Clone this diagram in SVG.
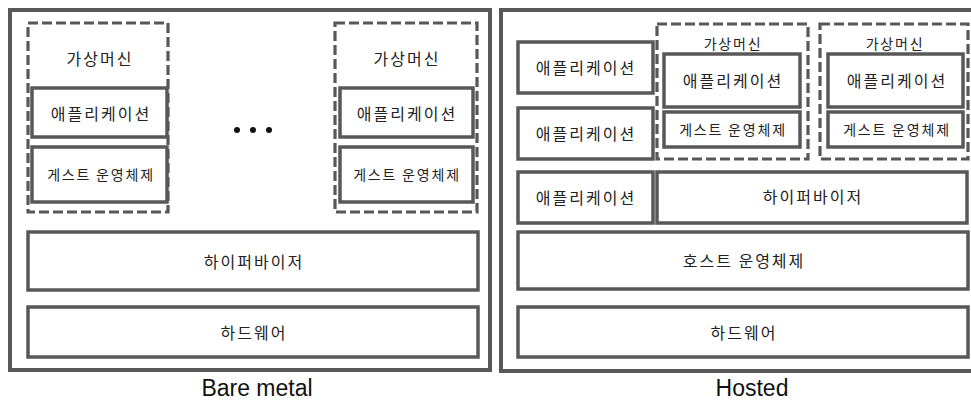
<svg xmlns="http://www.w3.org/2000/svg" width="971" height="401" viewBox="0 0 971 401">
<style>
.outer{fill:none;stroke:#585858;stroke-width:4}
.box{fill:#fff;stroke:#585858;stroke-width:3.5}
.dash{fill:none;stroke:#585858;stroke-width:3.2;stroke-dasharray:10 4}
.t{font-family:"Noto Sans CJK KR","Noto Sans",sans-serif;fill:#222;text-anchor:middle;dominant-baseline:central}
.l{font-size:16px;letter-spacing:2px}
.s{font-size:14px;letter-spacing:1.8px}
.cap{font-family:"Liberation Sans",Arial,sans-serif;font-size:23px;fill:#111;text-anchor:middle}
</style>
<rect width="971" height="401" fill="#fff"/>

<g id="bare-metal">
  <rect class="outer" x="10" y="10" width="480" height="360"/>
  <text class="cap" x="257" y="396">Bare metal</text>
</g>
<g id="bm-vm1">
  <rect class="dash" x="28" y="23" width="140" height="189"/>
  <text class="t l" x="100" y="58">가상머신</text>
</g>
<g id="bm-vm1-app">
  <rect class="box" x="32" y="88" width="135" height="49"/>
  <text class="t l" x="101" y="113">애플리케이션</text>
</g>
<g id="bm-vm1-guest">
  <rect class="box" x="32" y="147" width="135" height="55"/>
  <text class="t s" x="101" y="174">게스트 운영체제</text>
</g>
<g id="bm-dots">
  <circle cx="237" cy="130" r="3" fill="#111"/>
  <circle cx="253" cy="130" r="3" fill="#111"/>
  <circle cx="269" cy="130" r="3" fill="#111"/>
</g>
<g id="bm-vm2">
  <rect class="dash" x="335" y="23" width="142" height="189"/>
  <text class="t l" x="407" y="58">가상머신</text>
</g>
<g id="bm-vm2-app">
  <rect class="box" x="340" y="88" width="133" height="49"/>
  <text class="t l" x="407" y="113">애플리케이션</text>
</g>
<g id="bm-vm2-guest">
  <rect class="box" x="340" y="147" width="133" height="55"/>
  <text class="t s" x="407" y="174">게스트 운영체제</text>
</g>
<g id="bm-hypervisor">
  <rect class="box" x="28" y="232" width="450" height="58"/>
  <text class="t l" x="254" y="261">하이퍼바이저</text>
</g>
<g id="bm-hardware">
  <rect class="box" x="28" y="307" width="450" height="50"/>
  <text class="t l" x="254" y="332">하드웨어</text>
</g>

<g id="hosted">
  <rect class="outer" x="501" y="10" width="474" height="361"/>
  <text class="cap" x="752" y="396">Hosted</text>
</g>
<g id="h-app1">
  <rect class="box" x="518" y="42" width="135" height="51"/>
  <text class="t l" x="586" y="67">애플리케이션</text>
</g>
<g id="h-app2">
  <rect class="box" x="518" y="108" width="135" height="51"/>
  <text class="t l" x="586" y="133">애플리케이션</text>
</g>
<g id="h-app3">
  <rect class="box" x="518" y="172" width="135" height="51"/>
  <text class="t l" x="586" y="197">애플리케이션</text>
</g>
<g id="h-vm1">
  <rect class="dash" x="657" y="24" width="151" height="135"/>
  <text class="t s" x="733" y="43">가상머신</text>
</g>
<g id="h-vm1-app">
  <rect class="box" x="664" y="54" width="136" height="53"/>
  <text class="t l" x="733" y="80">애플리케이션</text>
</g>
<g id="h-vm1-guest">
  <rect class="box" x="664" y="112" width="136" height="35"/>
  <text class="t s" x="733" y="129">게스트 운영체제</text>
</g>
<g id="h-vm2">
  <rect class="dash" x="820" y="24" width="148" height="135"/>
  <text class="t s" x="895" y="43">가상머신</text>
</g>
<g id="h-vm2-app">
  <rect class="box" x="828" y="54" width="135" height="53"/>
  <text class="t l" x="897" y="80">애플리케이션</text>
</g>
<g id="h-vm2-guest">
  <rect class="box" x="828" y="112" width="135" height="35"/>
  <text class="t s" x="897" y="129">게스트 운영체제</text>
</g>
<g id="h-hypervisor">
  <rect class="box" x="657" y="172" width="310" height="51"/>
  <text class="t l" x="813" y="196">하이퍼바이저</text>
</g>
<g id="h-hostos">
  <rect class="box" x="518" y="232" width="450" height="57"/>
  <text class="t l" x="744" y="260">호스트 운영체제</text>
</g>
<g id="h-hardware">
  <rect class="box" x="518" y="307" width="450" height="50"/>
  <text class="t l" x="744" y="332">하드웨어</text>
</g>
</svg>
